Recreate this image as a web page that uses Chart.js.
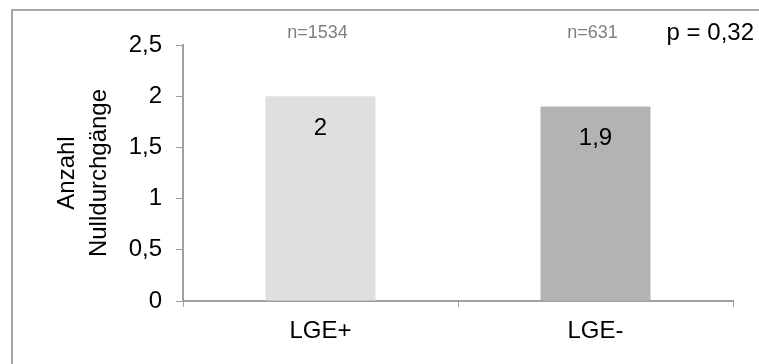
<!DOCTYPE html>
<html>
<head>
<meta charset="utf-8">
<script src="https://cdn.jsdelivr.net/npm/chart.js@4"></script>
<style>
  html, body { margin: 0; padding: 0; background: #fff; }
  #wrap { width: 759px; height: 364px; position: relative; }
</style>
</head>
<body>
<div id="wrap"><canvas id="chart"></canvas></div>
<script>
const categories = ["LGE+", "LGE-"];
const values = [2, 1.9];
const valueLabels = ["2", "1,9"];
const sampleSizes = ["n=1534", "n=631"];
const pValue = "p = 0,32";
const barColors = ["#dfdfdf", "#b3b3b3"];
const axisColor = "#a0a0a0";
const fontFamily = "'Liberation Sans', Arial, sans-serif";

// frame, n labels, p value and values inside the bars
const extras = {
  id: "extras",
  beforeDraw(chart) {
    const ctx = chart.ctx;
    ctx.save();
    ctx.strokeStyle = "#a6a6a6";
    ctx.lineWidth = 2;
    ctx.beginPath();
    ctx.moveTo(12, 364);
    ctx.lineTo(12, 10);
    ctx.lineTo(759, 10);
    ctx.stroke();
    ctx.restore();
  },
  afterDatasetsDraw(chart) {
    const ctx = chart.ctx;
    const meta = chart.getDatasetMeta(0);
    ctx.save();
    ctx.textAlign = "center";
    ctx.textBaseline = "middle";
    meta.data.forEach((bar, i) => {
      ctx.fillStyle = "#000";
      ctx.font = "24px " + fontFamily;
      ctx.fillText(valueLabels[i], bar.x, bar.y + 32);
      ctx.fillStyle = "#7f7f7f";
      ctx.font = "18px " + fontFamily;
      ctx.fillText(sampleSizes[i], bar.x - 3, 33);
    });
    ctx.fillStyle = "#000";
    ctx.font = "24px " + fontFamily;
    ctx.textAlign = "right";
    ctx.fillText(pValue, 754, 33);
    ctx.restore();
  },
};

new Chart(document.getElementById("chart"), {
  type: "bar",
  data: {
    labels: categories,
    datasets: [
      {
        data: values,
        backgroundColor: barColors,
        borderWidth: 0,
        barPercentage: 0.4,
        categoryPercentage: 1,
      },
    ],
  },
  options: {
    responsive: true,
    maintainAspectRatio: false,
    animation: false,
    layout: { padding: { left: 0, right: 26, top: 45, bottom: 0 } },
    plugins: {
      title: { display: false },
      legend: { display: false },
      tooltip: { enabled: false },
    },
    scales: {
      x: {
        grid: { drawOnChartArea: false, tickLength: 6, color: axisColor, offset: true },
        border: { color: axisColor, width: 2 },
        ticks: {
          color: "#000",
          padding: 10,
          font: { family: fontFamily, size: 24 },
        },
        afterFit(scale) { scale.height = 63; },
      },
      y: {
        min: 0,
        max: 2.5,
        ticks: {
          stepSize: 0.5,
          color: "#000",
          padding: 14,
          font: { family: fontFamily, size: 24 },
          callback: (v) => String(v).replace(".", ","),
        },
        grid: { drawOnChartArea: false, tickLength: 7, color: axisColor },
        border: { color: axisColor, width: 2 },
        title: {
          display: true,
          text: ["Anzahl", "Nulldurchgänge"],
          color: "#000",
          padding: { top: 51, bottom: 0 },
          font: { family: fontFamily, size: 24, lineHeight: 1.33 },
        },
        afterFit(scale) { scale.width = 183; },
      },
    },
  },
  plugins: [extras],
});
</script>
</body>
</html>
